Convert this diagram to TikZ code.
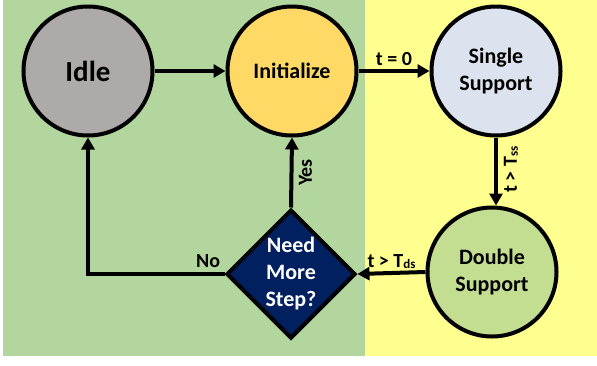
\documentclass[tikz,border=0pt]{standalone}
\usepackage{fontspec}
\setmainfont{Carlito}
\usetikzlibrary{arrows.meta,shapes.geometric,calc}
\definecolor{bggreen}{HTML}{B3D69E}
\definecolor{bgyellow}{HTML}{FFFF8F}
\definecolor{idlegray}{HTML}{AEAAAA}
\definecolor{initgold}{HTML}{FFD966}
\definecolor{singleblue}{HTML}{DCE3EE}
\definecolor{doublegreen}{HTML}{C3DE90}
\definecolor{navy}{HTML}{002060}
\tikzset{
  state/.style={circle, draw=black, line width=4pt, minimum size=129pt, inner sep=0pt, align=center, font=\fontsize{22}{27}\selectfont\bfseries},
  decision/.style={diamond, draw=black, line width=4pt, fill=navy, text=white, minimum width=129pt, minimum height=129pt, inner sep=0pt, align=center, font=\fontsize{22}{27}\selectfont\bfseries},
  conn/.style={line width=4pt, -{Triangle[length=12pt,width=13pt]}},
  lbl/.style={font=\fontsize{20}{22}\selectfont\bfseries, inner sep=1pt},
}
\newcommand{\lowsub}[1]{\raisebox{-1pt}{\fontsize{13}{14}\selectfont #1}}
\begin{document}
\begin{tikzpicture}[x=1pt,y=-1pt]
\useasboundingbox (0,0) rectangle (597,365);
\fill[white] (0,0) rectangle (597,365);
\fill[bggreen] (3,0) rectangle (365,356);
\fill[bgyellow] (365,0) rectangle (597,356);
\node[state, fill=idlegray, font=\fontsize{29}{32}\selectfont\bfseries] (idle) at (88,71) {Idle};
\node[state, fill=initgold] (init) at (292,71) {Initialize};
\node[state, fill=singleblue] (single) at (496,71) {\raisebox{-3pt}{Single}\\\raisebox{-3pt}{Support}};
\node[state, fill=doublegreen] (double) at (492,272) {Double\\Support};
\node[decision] (dec) at (291,274) {\raisebox{-2pt}{Need}\\\raisebox{-2pt}{More}\\\raisebox{-2pt}{Step?}};
\draw[conn] (idle) -- (init);
\draw[conn] (init) -- node[lbl, above=2pt] {t = 0} (single);
\draw[conn] (single.south) -- (single.south |- double.north);
\node[lbl, rotate=90] (tss) at ($(single.south)!0.5!(single.south |- double.north)+(15,-2)$) {t > T\lowsub{ss}};
\draw[conn] (double.west) -- node[lbl, above=1pt] {t > T\lowsub{ds}} (dec.east);
\draw[conn] (dec.north) -- (init.south);
\node[lbl, rotate=90] (yes) at ($(dec.north)!0.5!(init.south)+(14,0)$) {Yes};
\draw[conn] (dec.west) -| node[lbl, pos=0.06, above=3pt] {No} (idle.south);
\end{tikzpicture}
\end{document}
